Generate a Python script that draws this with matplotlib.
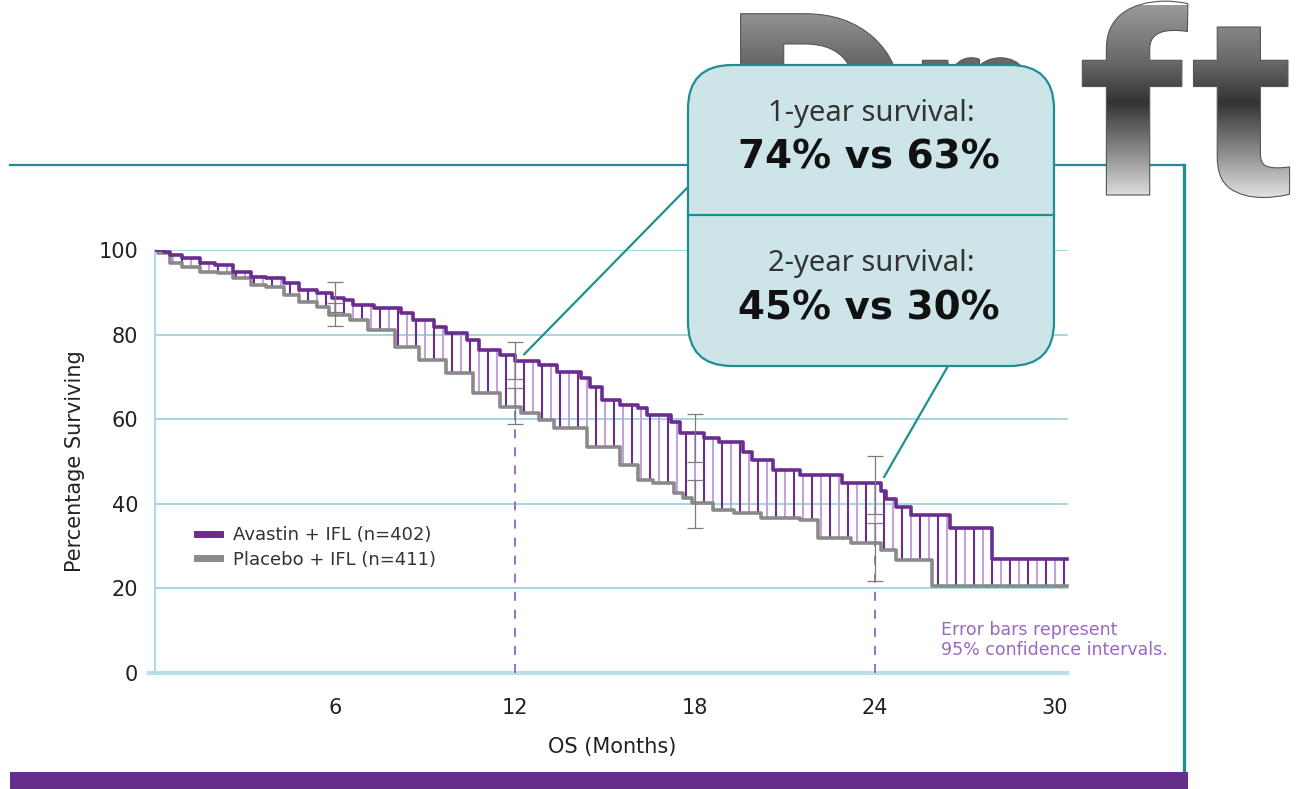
import numpy as np
import matplotlib
matplotlib.use("Agg")
import matplotlib.pyplot as plt
from matplotlib.patches import FancyBboxPatch, PathPatch, Rectangle, ConnectionPatch
from matplotlib.textpath import TextPath
from matplotlib.font_manager import FontProperties
from matplotlib.transforms import Affine2D
from matplotlib.colors import LinearSegmentedColormap
from matplotlib.lines import Line2D

# Kaplan-Meier curves (months, % surviving)
avastin_t = [0, 0.3, 0.5, 0.9, 1.5, 2.0, 2.6, 3.2, 3.7, 4.3, 4.8, 5.4, 5.9, 6.3, 6.6, 7.3, 8.2, 8.6,
             9.3, 9.7, 10.4, 10.8, 11.5, 12.0, 12.8, 13.4, 14.2, 14.5, 14.9, 15.5, 16.1, 16.4, 17.2,
             17.5, 18.3, 18.8, 19.6, 19.9, 20.6, 21.5, 22.9, 24.2, 24.35, 24.7, 25.2, 26.5, 27.9, 30.4]
avastin_s = [100, 99.5, 98.8, 98.1, 96.9, 96.5, 94.8, 93.6, 93.4, 92.2, 90.5, 89.8, 88.7, 88.2, 87.0,
             86.3, 85.1, 83.5, 81.8, 80.4, 78.7, 76.4, 75.2, 73.8, 72.8, 71.2, 69.7, 67.6, 64.5, 63.4,
             62.6, 61.0, 59.3, 56.7, 55.6, 54.6, 52.2, 50.4, 48.0, 46.8, 44.8, 43.0, 41.2, 39.2, 37.4,
             34.3, 27.0, 27.0]
placebo_t = [0, 0.1, 0.5, 0.9, 1.5, 2.1, 2.6, 3.2, 3.7, 4.3, 4.8, 5.4, 5.8, 6.5, 7.1, 8.0, 8.8, 9.7,
             10.6, 11.5, 12.2, 12.8, 13.3, 14.4, 15.5, 16.1, 16.6, 17.3, 17.6, 17.9, 18.6, 19.3, 20.2,
             21.5, 22.1, 23.2, 24.2, 24.7, 25.9, 30.4]
placebo_s = [100, 99.3, 97.0, 96.0, 94.8, 94.6, 93.4, 91.7, 91.3, 89.4, 87.7, 86.5, 84.6, 83.5, 81.0,
             77.0, 74.0, 70.9, 66.2, 62.9, 61.5, 59.8, 57.9, 53.4, 49.2, 45.6, 44.9, 42.6, 41.4, 40.2,
             38.5, 37.8, 36.6, 36.2, 31.9, 30.7, 29.1, 26.7, 20.6, 20.6]

# 95% CIs at 6/12/18/24 months
ci_months = [6, 12, 18, 24]
avastin_ci_lo = [85.3, 69.5, 49.9, 37.6]
avastin_ci_hi = [92.4, 78.3, 61.2, 51.3]
placebo_ci_lo = [82.0, 58.9, 34.3, 21.7]
placebo_ci_hi = [87.5, 67.4, 45.6, 35.5]

landmarks = [12, 24]
xticks = [6, 12, 18, 24, 30]
yticks = [0, 20, 40, 60, 80, 100]
labels = ["Avastin + IFL (n=402)", "Placebo + IFL (n=411)"]
box_lines = ["1-year survival:", "74% vs 63%", "2-year survival:", "45% vs 30%"]

PURPLE = "#6a2c91"
PURPLE_LIGHT = "#c2a4d8"
GRAY = "#8a8a8a"
TEAL = "#1f8f8f"
GRID = "#92d0d8"

W, H = 1312, 789
fig = plt.figure(figsize=(W / 100, H / 100), dpi=100)

ax = fig.add_axes([155 / W, 116 / H, 915 / W, 423 / H])
ax.set_xlim(0, 30.5)
ax.set_ylim(0, 100)
for s in ["top", "right", "bottom"]:
    ax.spines[s].set_visible(False)
ax.spines["left"].set_color("#a9dbe1")
ax.spines["left"].set_linewidth(1.5)
ax.tick_params(length=0, labelsize=15, colors="#222222")
ax.tick_params(axis="y", pad=12)
ax.tick_params(axis="x", pad=18)
ax.set_xticks(xticks)
ax.set_yticks(yticks)

for yv in yticks[1:]:
    ax.plot([0, 30.4], [yv, yv], color=GRID, lw=1.2, zorder=1)
ax.plot([-0.2, 30.4], [0, 0], color="#b8e0e5", lw=3, zorder=1, clip_on=False)

# hatching between the curves
at = np.array(avastin_t)
pt = np.array(placebo_t)
hx = np.arange(0.3, 30.35, 0.3)
top = np.array(avastin_s)[np.searchsorted(at, hx, side="right") - 1]
bot = np.array(placebo_s)[np.searchsorted(pt, hx, side="right") - 1]
cols = [PURPLE if i % 2 == 0 else PURPLE_LIGHT for i in range(len(hx))]
ax.vlines(hx, bot, top, colors=cols, lw=1.5, zorder=2)

# landmark dashed lines
lm_bot = np.array(placebo_s)[np.searchsorted(pt, landmarks, side="right") - 1]
ax.vlines(landmarks, 0, lm_bot, colors="#9364bd", lw=1.3, linestyles=(0, (5, 5)), zorder=2)

ax.step(placebo_t, placebo_s, where="post", color=GRAY, lw=2.6, zorder=3)
ax.step(avastin_t, avastin_s, where="post", color=PURPLE, lw=2.6, zorder=4)

for lo, hi in [(avastin_ci_lo, avastin_ci_hi), (placebo_ci_lo, placebo_ci_hi)]:
    lo = np.array(lo)
    hi = np.array(hi)
    ax.errorbar(ci_months, (lo + hi) / 2, yerr=(hi - lo) / 2, fmt="none", ecolor="#7d7d7d",
                elinewidth=0.9, capsize=6, capthick=0.9, zorder=5)

ax.set_xlabel("OS (Months)", fontsize=15, color="#222222", labelpad=14)
ax.set_ylabel("Percentage Surviving", fontsize=15, color="#222222", labelpad=10)

handles = [Line2D([], [], color=PURPLE, lw=5), Line2D([], [], color=GRAY, lw=5)]
leg = ax.legend(handles, labels, loc="upper left", bbox_to_anchor=(0.028, 0.385), frameon=False,
                handlelength=1.3, handletextpad=0.7, labelspacing=0.35,
                prop={"size": 13})
for t in leg.get_texts():
    t.set_color("#333333")

ax.text(26.2, 12.3, "Error bars represent\n95% confidence intervals.", fontsize=12.5,
        color="#9968c2", va="top", ha="left", linespacing=1.15)

# overlay in pixel coordinates for frame, watermark and callout
ov = fig.add_axes([0, 0, 1, 1], zorder=10)
ov.set_facecolor("none")
ov.axis("off")

ov.plot([10, 1184], [165, 165], color=TEAL, lw=1.6, zorder=1)
ov.plot([1184, 1184], [165, 775], color=TEAL, lw=2.4, zorder=1)
ov.add_patch(Rectangle((10, 772), 1178, 17, facecolor="#662d8a", edgecolor="none", zorder=1))

# "Draft" watermark with a grey gradient
fp = FontProperties(family="Roboto", weight="bold")
grad_cmap = LinearSegmentedColormap.from_list(
    "wm", [(0, "#9a9a9a"), (0.3, "#666666"), (0.5, "#333333"), (0.75, "#8a8a8a"), (1, "#e6e6e6")])
letters = [("D", 722, 1.15), ("r", 912, 0.75), ("a", 958, 0.62), ("f", 1078, 1.2), ("t", 1192, 1.2)]
for ch, x0, sx in letters:
    tp = TextPath((0, 0), ch, size=255, prop=fp)
    path = Affine2D().scale(sx, -1).translate(x0, 195).transform_path(tp)
    patch = PathPatch(path, facecolor="none", edgecolor="#555555", lw=0.8, zorder=3)
    ov.add_patch(patch)
    im = ov.imshow(np.linspace(0, 1, 256).reshape(-1, 1), extent=(700, 1400, 200, 5),
                   cmap=grad_cmap, aspect="auto", zorder=2)
    im.set_clip_path(patch)

# callout box
box = FancyBboxPatch((688, 65), 366, 301, boxstyle="round,pad=0,rounding_size=44",
                     facecolor="#cde4e9", edgecolor=TEAL, lw=1.6, zorder=5)
ov.add_patch(box)
ov.plot([688, 1054], [215, 215], color=TEAL, lw=1.6, zorder=6)
ov.text(871, 113, box_lines[0], ha="center", va="center", fontsize=21, family="Noto Sans",
        color="#333333", zorder=7)
ov.text(869, 157, box_lines[1], ha="center", va="center", fontsize=28, family="DejaVu Sans",
        weight="bold", color="#111111", zorder=7)
ov.text(871, 264, box_lines[2], ha="center", va="center", fontsize=21, family="Noto Sans",
        color="#333333", zorder=7)
ov.text(869, 308, box_lines[3], ha="center", va="center", fontsize=28, family="DejaVu Sans",
        weight="bold", color="#111111", zorder=7)

# leader lines from the box to the curve at 12 and 24 months
a_at = np.array(avastin_s)[np.searchsorted(at, landmarks, side="right") - 1]
for (bx, by), m, v in zip([(689, 186), (948, 366)], landmarks, a_at):
    con = ConnectionPatch(xyA=(bx, by), coordsA=ov.transData, xyB=(m + 0.3, v + 1.5),
                          coordsB=ax.transData, color=TEAL, lw=1.6, zorder=4)
    fig.add_artist(con)

ov.set_xlim(0, W)
ov.set_ylim(H, 0)

fig.savefig("out.png", dpi=100)
